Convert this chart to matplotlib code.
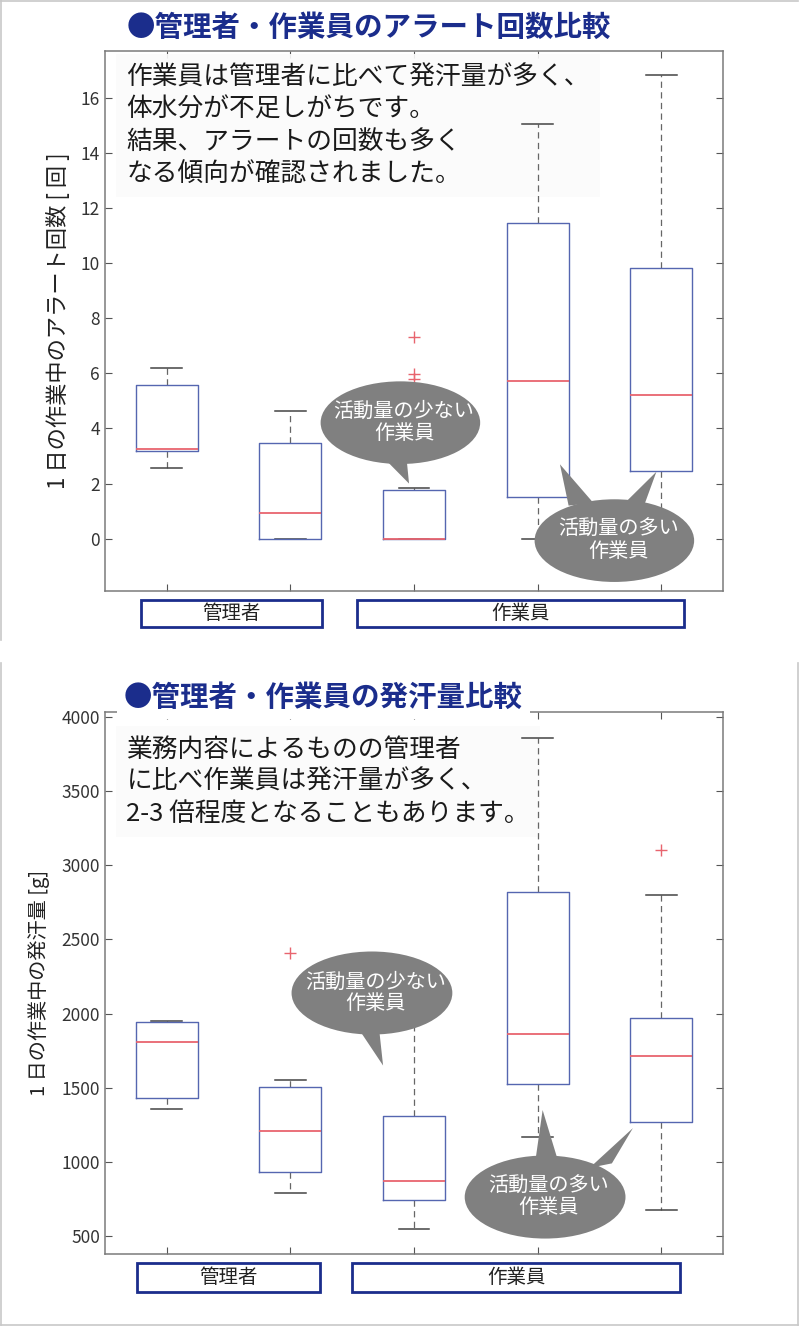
"""Alert count and sweat volume per day: managers vs workers (box plots)."""
import matplotlib
matplotlib.use("Agg")
import matplotlib.pyplot as plt
import matplotlib.transforms as mtransforms
from matplotlib.patches import Ellipse, Polygon, Rectangle
from matplotlib.lines import Line2D

plt.rcParams["font.family"] = ["Noto Sans CJK JP", "DejaVu Sans"]
TICK_FONT = ["Liberation Sans Narrow", "Noto Sans CJK JP", "DejaVu Sans"]

NAVY = "#1b2d8c"
BOX_BLUE = "#5566b0"
MED_RED = "#e8646e"
BUBBLE = "#808080"

# 1. Values (five boxes, no per-box labels).
positions = [1, 2, 3, 4, 5]
groups = ["管理者", "作業員"]

alert_whislo = [2.55, 0.0, 0.0, 0.0, 0.0]
alert_q1 = [3.19, 0.0, 0.0, 1.51, 2.47]
alert_med = [3.27, 0.95, 0.0, 5.71, 5.22]
alert_q3 = [5.56, 3.46, 1.75, 11.44, 9.81]
alert_whishi = [6.19, 4.62, 1.83, 15.06, 16.84]
alert_fliers = [[], [], [7.33, 5.98, 5.80], [], []]
alert_yticks = [0, 2, 4, 6, 8, 10, 12, 14, 16]

sweat_whislo = [1354, 792, 545, 1166, 677]
sweat_q1 = [1433, 934, 743, 1527, 1269]
sweat_med = [1808, 1210, 871, 1862, 1714]
sweat_q3 = [1943, 1503, 1307, 2818, 1972]
sweat_whishi = [1950, 1554, 2300, 3858, 2802]
sweat_fliers = [[], [2406], [], [], [3105]]
sweat_yticks = [500, 1000, 1500, 2000, 2500, 3000, 3500, 4000]

alert_title = "●管理者・作業員のアラート回数比較"
alert_note = ("作業員は管理者に比べて発汗量が多く、\n体水分が不足しがちです。\n"
              "結果、アラートの回数も多く\nなる傾向が確認されました。")
alert_ylabel = "1 日の作業中のアラート回数 [ 回 ]"
sweat_title = "●管理者・作業員の発汗量比較"
sweat_note = ("業務内容によるものの管理者\nに比べ作業員は発汗量が多く、\n"
              "2-3 倍程度となることもあります。")
sweat_ylabel = "1 日の作業中の発汗量 [g]"
few_text = "活動量の少ない\n作業員"
many_text = "活動量の多い\n作業員"


def make_stats(lo, q1, med, q3, hi, fliers):
    return [dict(whislo=a, q1=b, med=c, q3=d, whishi=e, fliers=f)
            for a, b, c, d, e, f in zip(lo, q1, med, q3, hi, fliers)]


def callout(ax, center, w, h, text, tails):
    for tri in tails:
        ax.add_patch(Polygon(tri, closed=True, fc=BUBBLE, ec="none", zorder=6))
    ax.add_patch(Ellipse(center, w, h, fc=BUBBLE, ec="none", zorder=6))
    ax.text(center[0] + 0.03, center[1], text, color="white", fontsize=14.5,
            ha="center", va="center", linespacing=1.05, zorder=7)


def draw_panel(ax, stats, ylim, yticks, ylabel, label_size, label_x, note,
               note_y, group_spans):
    ax.bxp(stats, positions=positions, widths=0.5, showfliers=True,
           boxprops=dict(color=BOX_BLUE, lw=1.0, zorder=4),
           medianprops=dict(color=MED_RED, lw=1.3, zorder=5),
           whiskerprops=dict(color="#666666", lw=0.9, ls=(0, (5, 3.5)),
                             zorder=3),
           capprops=dict(color="#444444", lw=1.1, zorder=3),
           flierprops=dict(marker="+", markeredgecolor=MED_RED, ms=8,
                           markeredgewidth=1.0, zorder=5))
    ax.set_xlim(0.5, 5.5)
    ax.set_ylim(*ylim)
    ax.set_yticks(yticks)
    ax.set_xticks(positions)
    ax.set_xticklabels([])
    ax.tick_params(direction="in", top=True, right=True, length=5,
                   color="#555555", labelsize=12.5, labelcolor="#333333")
    for lbl in ax.get_yticklabels():
        lbl.set_family(TICK_FONT)
    for sp in ax.spines.values():
        sp.set_color("#7a7a7a")
        sp.set_linewidth(1.1)
    ax.set_ylabel(ylabel, fontsize=label_size, color="#222222")
    ax.yaxis.set_label_coords(label_x, 0.5)
    ax.text(0.035, note_y, note, transform=ax.transAxes, fontsize=18.5,
            va="top", ha="left", linespacing=1.3, color="#1a1a1a", zorder=2,
            bbox=dict(boxstyle="square,pad=0.4", fc="#fbfbfb", ec="none",
                      alpha=0.9))
    # group boxes under the axis: x in data, y in axes fraction
    trans = mtransforms.blended_transform_factory(ax.transData, ax.transAxes)
    for name, (x0, x1, y0, y1) in zip(groups, group_spans):
        ax.add_patch(Rectangle((x0, y1), x1 - x0, y0 - y1, transform=trans,
                               fc="white", ec=NAVY, lw=2.0, clip_on=False))
        ax.text((x0 + x1) / 2, (y0 + y1) / 2, name, transform=trans,
                ha="center", va="center", fontsize=14, color="#222222")


fig = plt.figure(figsize=(8.0, 13.27), dpi=100)

# 2. Top panel: alert counts.
ax1 = fig.add_axes([0.131, 0.5546, 0.773, 0.407])
draw_panel(ax1, make_stats(alert_whislo, alert_q1, alert_med, alert_q3,
                           alert_whishi, alert_fliers),
           (-1.9, 17.7), alert_yticks, alert_ylabel, 16, -0.057,
           alert_note, 0.975,
           [(0.79, 2.26, -0.017, -0.067), (2.54, 5.18, -0.017, -0.067)])
callout(ax1, (2.89, 4.21), 1.29, 3.0, few_text,
        [[(2.74, 3.0), (2.94, 2.9), (2.96, 2.0)]])
callout(ax1, (4.62, -0.07), 1.29, 3.0, many_text,
        [[(4.25, 1.2), (4.45, 1.3), (4.18, 2.7)],
         [(4.66, 1.1), (4.86, 1.2), (4.96, 2.43)]])
fig.text(0.158, 0.979, alert_title, fontsize=20.5, fontweight="bold",
         color=NAVY, ha="left", va="center",
         bbox=dict(boxstyle="square,pad=0.25", fc="white", ec="none"))

# 3. Bottom panel: sweat volume.
ax2 = fig.add_axes([0.131, 0.0548, 0.773, 0.4084])
draw_panel(ax2, make_stats(sweat_whislo, sweat_q1, sweat_med, sweat_q3,
                           sweat_whishi, sweat_fliers),
           (377, 4032), sweat_yticks, sweat_ylabel, 14.5, -0.089,
           sweat_note, 0.955,
           [(0.76, 2.24, -0.016, -0.07), (2.50, 5.15, -0.016, -0.07)])
callout(ax2, (2.66, 2139), 1.30, 560, few_text,
        [[(2.55, 1900), (2.72, 1880), (2.75, 1650)]])
callout(ax2, (4.06, 763), 1.30, 560, many_text,
        [[(3.98, 1000), (4.16, 1020), (4.04, 1350)],
         [(4.42, 960), (4.60, 990), (4.77, 1228)]])
fig.text(0.155, 0.474, sweat_title, fontsize=20.5, fontweight="bold",
         color=NAVY, ha="left", va="center",
         bbox=dict(boxstyle="square,pad=0.25", fc="white", ec="none"))

# 4. Thin frames of the two stacked screenshots.
W, H = 800.0, 1327.0
for (x0, y0), (x1, y1) in [((1, 0), (1, 640)), ((1, 1), (798, 1)),
                           ((1, 663), (1, 1325)), ((798, 663), (798, 1325)),
                           ((1, 1325), (798, 1325))]:
    fig.add_artist(Line2D([x0 / W, x1 / W], [1 - y0 / H, 1 - y1 / H],
                          transform=fig.transFigure, color="#c8c8c8", lw=1.2))

fig.savefig("out.png", dpi=100)
